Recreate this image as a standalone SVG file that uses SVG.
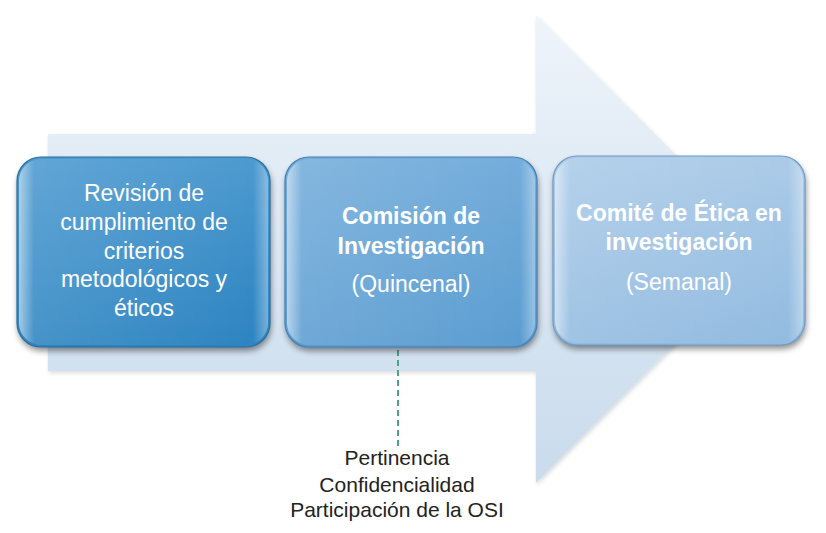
<svg xmlns="http://www.w3.org/2000/svg" width="826" height="533" viewBox="0 0 826 533">
  <defs>
    <linearGradient id="arrowFill" x1="0" y1="0" x2="0" y2="1">
      <stop offset="0" stop-color="#eef4fa"/>
      <stop offset="0.5" stop-color="#dbe7f3"/>
      <stop offset="1" stop-color="#c9dbec"/>
    </linearGradient>
    <linearGradient id="g1" x1="0" y1="0" x2="0" y2="1">
      <stop offset="0" stop-color="#4d9ad0"/>
      <stop offset="1" stop-color="#2c84c1"/>
    </linearGradient>
    <linearGradient id="g2" x1="0" y1="0" x2="0" y2="1">
      <stop offset="0" stop-color="#74addb"/>
      <stop offset="1" stop-color="#5b9dd1"/>
    </linearGradient>
    <linearGradient id="g3" x1="0" y1="0" x2="0" y2="1">
      <stop offset="0" stop-color="#abcbe8"/>
      <stop offset="1" stop-color="#92bbe0"/>
    </linearGradient>
    <linearGradient id="gloss" x1="0" y1="0" x2="1" y2="0">
      <stop offset="0" stop-color="#ffffff" stop-opacity="0.55"/>
      <stop offset="0.06" stop-color="#ffffff" stop-opacity="0.12"/>
      <stop offset="0.94" stop-color="#ffffff" stop-opacity="0"/>
      <stop offset="1" stop-color="#ffffff" stop-opacity="0.35"/>
    </linearGradient>
    <filter id="shadow" x="-10%" y="-10%" width="120%" height="125%">
      <feGaussianBlur in="SourceAlpha" stdDeviation="3"/>
      <feOffset dx="1" dy="4" result="b"/>
      <feComponentTransfer><feFuncA type="linear" slope="0.45"/></feComponentTransfer>
      <feMerge><feMergeNode/><feMergeNode in="SourceGraphic"/></feMerge>
    </filter>
    <filter id="ashadow" x="-5%" y="-5%" width="110%" height="110%">
      <feGaussianBlur in="SourceAlpha" stdDeviation="2"/>
      <feOffset dx="1" dy="2"/>
      <feComponentTransfer><feFuncA type="linear" slope="0.15"/></feComponentTransfer>
      <feMerge><feMergeNode/><feMergeNode in="SourceGraphic"/></feMerge>
    </filter>
  </defs>
  <style>
    .box-text { font-family: "Liberation Sans", Arial, sans-serif; font-size: 23px; fill: #ffffff; text-anchor: middle; }
    .bold { font-weight: bold; }
    .note { font-family: "Liberation Sans", Arial, sans-serif; font-size: 21px; fill: #222222; text-anchor: middle; }
    .box { filter: url(#shadow); }
    .rim { fill: none; stroke-width: 1.2; }
    .hl { fill: url(#gloss); }
  </style>
  <rect width="826" height="533" fill="#ffffff"/>

  <g id="arrow">
    <polygon points="48,134 536,134 536,15 770,249 536,483 536,371 48,371" fill="url(#arrowFill)" filter="url(#ashadow)"/>
  </g>

  <g id="connectors">
    <line x1="398" y1="350" x2="398" y2="447" stroke="#4f9f8c" stroke-width="2" stroke-dasharray="6,4"/>
  </g>

  <g id="node1">
    <rect class="box" x="17" y="157" width="253" height="190" rx="24" fill="url(#g1)"/>
    <rect class="hl" x="19" y="159" width="249" height="186" rx="22"/>
    <rect class="rim" x="17" y="157" width="253" height="190" rx="24" stroke="#2a6f9f"/>
    <text class="box-text" x="144" y="201">Revisión de</text>
    <text class="box-text" x="144" y="230">cumplimiento de</text>
    <text class="box-text" x="144" y="259">criterios</text>
    <text class="box-text" x="144" y="287">metodológicos y</text>
    <text class="box-text" x="144" y="316">éticos</text>
  </g>

  <g id="node2">
    <rect class="box" x="285" y="157" width="252" height="190" rx="24" fill="url(#g2)"/>
    <rect class="hl" x="287" y="159" width="248" height="186" rx="22"/>
    <rect class="rim" x="285" y="157" width="252" height="190" rx="24" stroke="#4482b5"/>
    <text class="box-text bold" x="411" y="224">Comisión de</text>
    <text class="box-text bold" x="411" y="254">Investigación</text>
    <text class="box-text" x="411" y="292">(Quincenal)</text>
  </g>

  <g id="node3">
    <rect class="box" x="553" y="156" width="252" height="189" rx="24" fill="url(#g3)"/>
    <rect class="hl" x="555" y="158" width="248" height="185" rx="22"/>
    <rect class="rim" x="553" y="156" width="252" height="189" rx="24" stroke="#6f9cc4"/>
    <text class="box-text bold" x="679" y="221">Comité de Ética en</text>
    <text class="box-text bold" x="679" y="250">investigación</text>
    <text class="box-text" x="679" y="290">(Semanal)</text>
  </g>

  <g id="note">
    <text class="note" x="397" y="465">Pertinencia</text>
    <text class="note" x="397" y="492">Confidencialidad</text>
    <text class="note" x="397" y="517">Participación de la OSI</text>
  </g>
</svg>
